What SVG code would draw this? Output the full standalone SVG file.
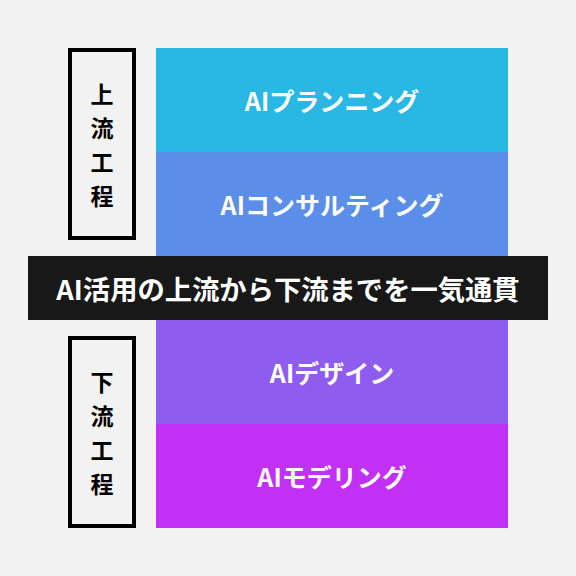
<svg xmlns="http://www.w3.org/2000/svg" width="576" height="576" viewBox="0 0 576 576">
<style>
.bar{font-family:"Noto Sans CJK JP","Noto Sans",sans-serif;font-weight:700;font-size:25px;fill:#ffffff;text-anchor:middle;dominant-baseline:central}
.side{font-family:"Noto Sans CJK JP","Noto Sans",sans-serif;font-weight:700;font-size:23px;fill:#000000;text-anchor:middle;dominant-baseline:central}
.band{font-family:"Noto Sans CJK JP","Noto Sans",sans-serif;font-weight:700;font-size:27.3px;fill:#ffffff;text-anchor:middle;dominant-baseline:central}
.frame{fill:none;stroke:#000000;stroke-width:4}
</style>
<rect x="0" y="0" width="576" height="576" fill="#f2f2f2"/>
<g id="planning">
<rect x="156" y="48" width="352" height="104" fill="#29b7e4"/>
<text class="bar" x="332" y="100">AIプランニング</text>
</g>
<g id="consulting">
<rect x="156" y="152" width="352" height="104" fill="#5b8ee8"/>
<text class="bar" x="332" y="204">AIコンサルティング</text>
</g>
<g id="design">
<rect x="156" y="320" width="352" height="104" fill="#8f5cf0"/>
<text class="bar" x="332" y="372">AIデザイン</text>
</g>
<g id="modeling">
<rect x="156" y="424" width="352" height="104" fill="#c230f5"/>
<text class="bar" x="332" y="476">AIモデリング</text>
</g>
<g id="band">
<rect x="28" y="256" width="520" height="64" fill="#181818"/>
<text class="band" x="288" y="288">AI活用の上流から下流までを一気通貫</text>
</g>
<g id="upstream">
<rect class="frame" x="70" y="50" width="64" height="188"/>
<text class="side" x="102" y="93">上</text>
<text class="side" x="102" y="127">流</text>
<text class="side" x="102" y="161">工</text>
<text class="side" x="102" y="195">程</text>
</g>
<g id="downstream">
<rect class="frame" x="70" y="338" width="64" height="188"/>
<text class="side" x="102" y="381">下</text>
<text class="side" x="102" y="415">流</text>
<text class="side" x="102" y="449">工</text>
<text class="side" x="102" y="483">程</text>
</g>
<g id="connectors"></g>
</svg>
